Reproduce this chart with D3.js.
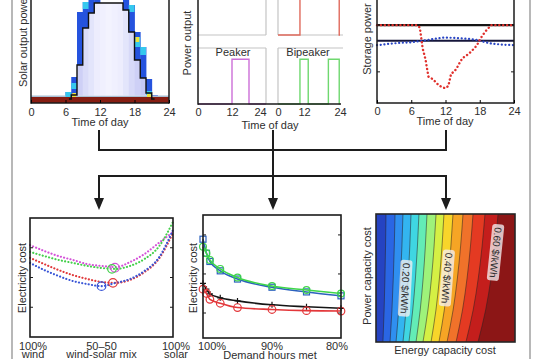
<!DOCTYPE html>
<html><head><meta charset="utf-8">
<script src="https://cdn.jsdelivr.net/npm/d3@7/dist/d3.min.js"></script>
<style>
html,body{margin:0;padding:0;background:#fff;}
svg{display:block;}
text{font-family:"Liberation Sans",Arial,Helvetica,sans-serif;fill:#2e2e2e;}
</style></head><body>
<svg id="chart" width="559" height="359"></svg>
<script>
// ================= DATA =================
// Panel A : solar output vs time of day (hourly columns)
const solarHours    = d3.range(0, 24);
const solarEnvelope = [0,0,0,0,0,0,0,0.02,0.32,0.69,0.84,0.94,0.94,0.94,0.94,0.94,0.87,0.65,0.37,0.19,0.04,0,0,0];
const solarFringe   = [0,0,0,0,0,0,0.05,0.2,0.85,0.95,1.1,1.1,0.94,0.94,0.94,0.94,1.1,0.92,0.65,0.5,0.18,0.02,0,0];
const solarShade    = [0,0,0,0,0,0,0,0.2,0.35,0.55,0.7,0.85,0.9,0.95,0.9,0.85,0.7,0.5,0.35,0.2,0.1,0,0,0];
const solarCyan     = [[6,0,0.05],[7,0.08,0.14],[9,0.88,0.95],[10,0.98,1.1],[17,0.85,0.92],[18,0.5,0.6],[19,0.42,0.5],[20,0.02,0.06]];
const solarYellow   = [[7,0,0.04],[10,1.02,1.1],[16,1.0,1.1],[18,0.55,0.6],[20,0,0.03]];
const dayTicks      = [0, 6, 12, 18, 24];

// Panel B : dispatch profiles
const halfDayTicks   = [0, 12, 24];
const intermHours    = [0, 8.5, 23.7, 24];
const intermPower    = [0, 1, 0, 0];
const peakerHours    = [0, 12, 18, 24];
const peakerPower    = [0, 1, 0, 0];
const bipeakerHours  = [0, 8.5, 11.7, 19.5, 23.7, 24];
const bipeakerPower  = [0, 1, 0, 1, 0, 0];

// Panel C : storage power
const storageRedHours = [0,1,2,3,4,5,6,7,7.5,8,8.5,9,9.5,10,10.5,11,11.5,12,12.5,13,13.5,14,14.5,15,15.5,16,16.5,17,17.5,18,18.5,19,19.5,20,21,22,23,24];
const storageRed      = [1,1,1,1,1,1,1,1,0.85,-0.5,-1.2,-2.3,-2.4,-2.55,-2.75,-2.9,-3.0,-3.05,-2.9,-2.1,-2.0,-1.75,-1.4,-1.1,-1.0,-0.85,-0.7,-0.5,-0.3,0.05,0.35,0.6,0.8,1,1,1,1,1];
const storageBlueHours = d3.range(0, 25);
const storageBlue      = [-0.28,-0.25,-0.2,-0.17,-0.14,-0.12,-0.1,-0.05,0,0.06,0.12,0.17,0.2,0.19,0.17,0.15,0.12,0.08,0,-0.1,-0.18,-0.22,-0.25,-0.27,-0.28];
const storageLevels    = [1, 0];

// Panel D : cost vs wind-solar mix
const mixShare    = [0,0.1,0.2,0.3,0.4,0.5,0.6,0.7,0.8,0.9,1.0];
const mixMagenta  = [3.09,2.89,2.72,2.59,2.45,2.39,2.35,2.52,2.79,3.16,3.53];
const mixGreen    = [2.86,2.72,2.59,2.49,2.39,2.32,2.29,2.39,2.62,3.03,3.87];
const mixRed      = [2.66,2.45,2.25,2.08,1.95,1.85,1.82,1.92,2.18,2.62,3.50];
const mixBlue     = [2.49,2.25,2.05,1.88,1.78,1.71,1.82,1.95,2.22,2.66,3.60];
const mixMinima   = [[0.594,2.33,"magenta"],[0.573,2.29,"green"],[0.58,1.82,"red"],[0.5,1.71,"blue"]];
const mixTickLabels = [["100%","wind"],["50–50","wind-solar mix"],["100%","solar"]];

// Panel E : cost vs demand hours met
const demandMet    = [100, 99.5, 99, 97.5, 95, 90, 85, 80];
const demandBlue   = [2.89,2.53,2.32,2.08,1.87,1.66,1.54,1.44];
const demandGreen  = [2.70,2.53,2.36,2.13,1.91,1.69,1.59,1.50];
const demandBlack  = [1.76,1.61,1.49,1.39,1.31,1.21,1.16,1.12];
const demandRed    = [1.61,1.50,1.35,1.25,1.14,1.09,1.06,1.05];
const demandTicks  = [100, 90, 80];

// Panel F : contour of cost over energy / power capacity cost
const contourLevels  = [0.05,0.10,0.15,0.20,0.25,0.30,0.35,0.40,0.45,0.50,0.55,0.60,0.65];
const contourTopX    = [0.072,0.137,0.194,0.252,0.309,0.367,0.432,0.489,0.554,0.626,0.698,0.784,0.878];
const contourBottomX = [0.050,0.101,0.144,0.194,0.237,0.288,0.338,0.396,0.453,0.511,0.576,0.647,0.734];
const contourBendP   = [1, 0.75, 0.5, 0.25, 0];
const contourBendS   = [0, 0.15, 0.35, 0.62, 1];
const contourColors  = ["#2543c2","#2a66e4","#2f8ff0","#33b5f0","#3fd6e2","#63ecb6","#9ef27a","#d5f044","#f8d52a","#f6a525","#f0722a","#e43a22","#c41e1c","#8c1616"];
const contourLabels  = [["0.20 $/kWh",0.21,0.42],["0.40 $/kWh",0.51,0.50],["0.60 $/kWh",0.86,0.70]];

// ================= DRAWING =================
const svg = d3.select("#chart");
const INK = "#1b1b1b";

function label(x, y, s, o = {}) {
  const t = svg.append("text")
    .attr("transform", `translate(${x},${y}) rotate(${o.rotate || 0})`)
    .attr("text-anchor", o.anchor || "middle")
    .attr("font-size", o.size || 11)
    .text(s);
  if (o.dy) t.attr("dy", o.dy);
  return t;
}
function seg(x1, y1, x2, y2, stroke, w) {
  svg.append("line").attr("x1", x1).attr("y1", y1).attr("x2", x2).attr("y2", y2)
    .attr("stroke", stroke).attr("stroke-width", w);
}
function bottomAxis(scale, y, ticks, pad) {
  const g = svg.append("g").attr("transform", `translate(0,${y})`)
    .call(d3.axisBottom(scale).tickValues(ticks).tickSizeInner(-3).tickSizeOuter(0).tickPadding(pad));
  g.select(".domain").remove();
  g.attr("font-size", 11);
  g.selectAll("text").attr("fill", "#2e2e2e");
  return g;
}

// figure borders
seg(12, 0, 12, 359, "#a0a0a0", 1.5);
seg(530, 0, 530, 359, "#a0a0a0", 1.5);

// ---------- Panel A ----------
const X1 = d3.scaleLinear().domain([0, 24]).range([31, 169]);
const Y1 = d3.scaleLinear().domain([0, 1]).range([97, -3]);
svg.append("rect").attr("x", X1(0)).attr("y", Y1(0)).attr("width", X1(24) - X1(0))
  .attr("height", Y1(-0.06) - Y1(0)).attr("fill", "#861d12");
svg.append("rect").attr("x", X1(0)).attr("y", Y1(0.015)).attr("width", X1(24) - X1(0))
  .attr("height", Y1(0) - Y1(0.015)).attr("fill", "#a9c0d4");
const shade = d3.interpolateRgb("#b8bcf1", "#f6f6ff");
solarHours.forEach(h => {
  const env = solarEnvelope[h], fr = solarFringe[h];
  const w = X1(h + 1) - X1(h) + 0.4;
  if (fr > env) {
    svg.append("rect").attr("x", X1(h)).attr("y", Y1(fr)).attr("width", w)
      .attr("height", Y1(Math.max(env, 0.015)) - Y1(fr)).attr("fill", "#2553de");
  }
  if (env > 0.015) {
    svg.append("rect").attr("x", X1(h)).attr("y", Y1(env)).attr("width", w)
      .attr("height", Y1(0.015) - Y1(env)).attr("fill", shade(solarShade[h]));
  }
});
solarCyan.forEach(([h, a, b]) => svg.append("rect").attr("x", X1(h)).attr("y", Y1(b))
  .attr("width", X1(h + 1) - X1(h)).attr("height", Y1(a) - Y1(b)).attr("fill", "#36c8ee"));
solarYellow.forEach(([h, a, b]) => svg.append("rect").attr("x", X1(h) + 1).attr("y", Y1(b))
  .attr("width", X1(h + 1) - X1(h) - 2).attr("height", Y1(a) - Y1(b)).attr("fill", "#eee23c"));
const envPts = solarHours.filter(h => h >= 6 && h <= 21).map(h => [h + (h === 6 ? 0.6 : 0), solarEnvelope[h] > 0 ? solarEnvelope[h] : -0.02]);
envPts.push([21.5, -0.02]);
svg.append("path").attr("d", d3.line().x(d => X1(d[0])).y(d => Y1(d[1])).curve(d3.curveStepAfter)(envPts))
  .attr("fill", "none").attr("stroke", "#111").attr("stroke-width", 1.4);
seg(X1(0), -5, X1(0), 103.7, INK, 1.5);
seg(X1(24), -5, X1(24), 103.7, INK, 1.5);
seg(X1(0), 103, X1(24), 103, INK, 1.5);
bottomAxis(X1, 103, dayTicks, 5);
label(23, 87, "Solar output power", { rotate: -90, anchor: "start", dy: "0.35em" });
label(100, 126, "Time of day");

// ---------- Panel B ----------
const X2a = d3.scaleLinear().domain([0, 24]).range([198, 266]);
const X2b = d3.scaleLinear().domain([0, 24]).range([278, 340]);
const Y2lo = d3.scaleLinear().domain([0, 1.25]).range([104, 48]);
const Y2hi = d3.scaleLinear().domain([0, 1.25]).range([35, -21]);
const grid = "#c4c4c4";
seg(X2a(24), -2, X2a(24), Y2hi(0), grid, 1.2);
seg(X2a(24), Y2lo(1.25), X2a(24), 104, grid, 1.2);
seg(X2b(0), -2, X2b(0), Y2hi(0), grid, 1.2);
seg(X2b(0), Y2lo(1.25), X2b(0), 104, grid, 1.2);
seg(X2a(0), Y2hi(0), X2a(24), Y2hi(0), grid, 1.2);
seg(X2b(0), Y2hi(0), X2b(24) + 3, Y2hi(0), grid, 1.2);
seg(X2a(0), Y2lo(1.25), X2a(24), Y2lo(1.25), grid, 1.2);
seg(X2b(0), Y2lo(1.25), X2b(24) + 3, Y2lo(1.25), grid, 1.2);
function stepLine(xs, ys, xsc, ysc, color) {
  svg.append("path").attr("d", d3.line().x((d, i) => xsc(xs[i])).y((d, i) => ysc(ys[i])).curve(d3.curveStepAfter)(xs))
    .attr("fill", "none").attr("stroke", color).attr("stroke-width", 1.4);
}
stepLine(intermHours, intermPower, X2b, Y2hi, "#e06a5c");
stepLine(peakerHours, peakerPower, X2a, Y2lo, "#cc6fd8");
stepLine(bipeakerHours, bipeakerPower, X2b, Y2lo, "#6fd86f");
seg(X2a(0), -2, X2a(0), 104.7, INK, 1.5);
seg(X2a(0), 104, X2b(24) + 1, 104, INK, 1.5);
const axL = bottomAxis(X2a, 104, halfDayTicks, 4);
axL.selectAll(".tick").filter(d => d === 24).select("text").attr("dx", -6);
axL.selectAll(".tick line").remove();
const axR = bottomAxis(X2b, 104, halfDayTicks, 4);
axR.selectAll(".tick").filter(d => d === 12).select("text").attr("dx", -5);
axR.selectAll(".tick line").remove();
label(233, 56, "Peaker");
label(308, 56, "Bipeaker");
label(187, 43, "Power output", { rotate: -90, dy: "0.35em" });
label(270, 129, "Time of day");

// ---------- Panel C ----------
const X3 = d3.scaleLinear().domain([0, 24]).range([377, 514]);
const Y3 = d3.scaleLinear().domain([-4, 3]).range([103, -6]);
seg(X3(0), Y3(storageLevels[0]), X3(24), Y3(storageLevels[0]), "#151515", 2.2);
seg(X3(0), Y3(storageLevels[1]), X3(24), Y3(storageLevels[1]), "#16163a", 2);
svg.append("path").attr("d", d3.line().x((d, i) => X3(storageBlueHours[i])).y(d => Y3(d)).curve(d3.curveMonotoneX)(storageBlue))
  .attr("fill", "none").attr("stroke", "#2945c4").attr("stroke-width", 2.2)
  .attr("stroke-dasharray", "0.1 3.6").attr("stroke-linecap", "round");
svg.append("path").attr("d", d3.line().x((d, i) => X3(storageRedHours[i])).y(d => Y3(d))(storageRed))
  .attr("fill", "none").attr("stroke", "#e0302c").attr("stroke-width", 2.4)
  .attr("stroke-dasharray", "0.1 3.8").attr("stroke-linecap", "round");
seg(X3(0), -5, X3(0), 103.7, INK, 1.5);
seg(X3(24), -5, X3(24), 103.7, INK, 1.5);
seg(X3(0), 103, X3(24), 103, INK, 1.5);
seg(X3(0), Y3(-2), X3(0) + 3, Y3(-2), INK, 1);
seg(X3(24) - 3, Y3(-2), X3(24), Y3(-2), INK, 1);
bottomAxis(X3, 103, dayTicks, 4);
label(367, 39, "Storage power", { rotate: -90, dy: "0.35em" });
label(445, 125, "Time of day");

// ---------- connectors ----------
const CW = 2, CC = "#1d1d1d";
seg(99, 130, 99, 151, CC, CW);
seg(446, 130, 446, 151, CC, CW);
seg(98, 150, 447, 150, CC, CW);
seg(98, 176, 447, 176, CC, CW);
seg(99, 175, 99, 200, CC, CW);
seg(446, 175, 446, 200, CC, CW);
seg(273, 130, 273, 200, CC, CW);
[99, 273, 446].forEach(x => svg.append("path")
  .attr("d", `M${x - 5},198 L${x + 5},198 L${x},210 Z`).attr("fill", CC));

// ---------- Panel D ----------
const X4 = d3.scaleLinear().domain([0, 1]).range([30, 173]);
const Y4 = d3.scaleLinear().domain([0, 4]).range([337, 218]);
const mixColors = { magenta: "#d452d8", green: "#45cf4c", red: "#e0383a", blue: "#3a56d6" };
[[mixMagenta, "magenta"], [mixGreen, "green"], [mixRed, "red"], [mixBlue, "blue"]].forEach(([vals, c]) => {
  svg.append("path").attr("d", d3.line().x((d, i) => X4(mixShare[i])).y(d => Y4(d)).curve(d3.curveMonotoneX)(vals))
    .attr("fill", "none").attr("stroke", mixColors[c]).attr("stroke-width", 2.1)
    .attr("stroke-dasharray", "0.1 3.2").attr("stroke-linecap", "round");
});
mixMinima.forEach(([x, y, c]) => svg.append("circle").attr("cx", X4(x)).attr("cy", Y4(y)).attr("r", 4.3)
  .attr("fill", "none").attr("stroke", mixColors[c]).attr("stroke-width", 1.2));
svg.append("rect").attr("x", X4(0)).attr("y", Y4(4)).attr("width", X4(1) - X4(0)).attr("height", Y4(0) - Y4(4))
  .attr("fill", "none").attr("stroke", INK).attr("stroke-width", 1.6);
[1, 2, 3].forEach(v => { seg(X4(0), Y4(v), X4(0) + 3, Y4(v), INK, 1); seg(X4(1) - 3, Y4(v), X4(1), Y4(v), INK, 1); });
[0, 0.5, 1].forEach((v, i) => {
  label(X4(v) + (i === 0 ? 3 : i === 2 ? 3 : 0), 349.5, mixTickLabels[i][0]);
  label(X4(v) + (i === 0 ? 3 : i === 2 ? 3 : 0), 358, mixTickLabels[i][1]);
});
label(22, 278, "Electricity cost", { rotate: -90, dy: "0.35em" });

// ---------- Panel E ----------
const X5 = d3.scaleLinear().domain([100, 80]).range([203, 341]);
const Y5 = d3.scaleLinear().domain([0.36, 3.51]).range([338, 215]);
const demColors = { blue: "#2c62be", green: "#3fd64a", black: "#151515", red: "#e3373a" };
const demSeries = [[demandBlue, "blue"], [demandGreen, "green"], [demandBlack, "black"], [demandRed, "red"]];
demSeries.forEach(([vals, c]) => {
  svg.append("path").attr("d", d3.line().x((d, i) => X5(demandMet[i])).y(d => Y5(d)).curve(d3.curveMonotoneX)(vals))
    .attr("fill", "none").attr("stroke", demColors[c]).attr("stroke-width", 1.6);
  vals.forEach((v, i) => {
    const x = X5(demandMet[i]), y = Y5(v);
    if (c === "blue") svg.append("rect").attr("x", x - 3).attr("y", y - 3).attr("width", 6).attr("height", 6)
      .attr("fill", "none").attr("stroke", demColors[c]).attr("stroke-width", 1.2);
    else if (c === "black") svg.append("path").attr("d", `M${x - 3},${y}H${x + 3}M${x},${y - 3}V${y + 3}`)
      .attr("stroke", demColors[c]).attr("stroke-width", 1.2);
    else svg.append("circle").attr("cx", x).attr("cy", y).attr("r", c === "red" ? 3.8 : 3.4)
      .attr("fill", "none").attr("stroke", demColors[c]).attr("stroke-width", 1.2);
  });
});
svg.append("rect").attr("x", X5(100)).attr("y", 215).attr("width", X5(80) - X5(100)).attr("height", 123)
  .attr("fill", "none").attr("stroke", INK).attr("stroke-width", 1.6);
[1, 2, 3].forEach(v => { seg(X5(100), Y5(v), X5(100) + 3, Y5(v), INK, 1); seg(X5(80) - 3, Y5(v), X5(80), Y5(v), INK, 1); });
demandTicks.forEach(v => label(X5(v) + (v === 100 ? 9 : v === 80 ? -4 : 0), 350, v + "%"));
label(270, 359, "Demand hours met");
label(193, 278, "Electricity cost", { rotate: -90, dy: "0.35em" });

// ---------- Panel F ----------
const X6 = d3.scaleLinear().domain([0, 1]).range([376, 515]);
const Y6 = d3.scaleLinear().domain([0, 1]).range([342, 214]);
svg.append("clipPath").attr("id", "cf").append("rect")
  .attr("x", X6(0)).attr("y", Y6(1)).attr("width", X6(1) - X6(0)).attr("height", Y6(0) - Y6(1));
const gF = svg.append("g").attr("clip-path", "url(#cf)");
const bPts = i => contourBendP.map((p, k) => ({ p, x: contourTopX[i] + (contourBottomX[i] - contourTopX[i]) * contourBendS[k] }));
gF.append("rect").attr("x", X6(0)).attr("y", Y6(1)).attr("width", X6(1) - X6(0)).attr("height", Y6(0) - Y6(1))
  .attr("fill", contourColors[0]);
const area = d3.area().y(d => Y6(d.p)).x0(d => X6(d.x)).x1(X6(1.05)).curve(d3.curveMonotoneY);
const cline = d3.line().y(d => Y6(d.p)).x(d => X6(d.x)).curve(d3.curveMonotoneY);
contourLevels.forEach((lv, i) => gF.append("path").attr("d", area(bPts(i))).attr("fill", contourColors[i + 1]));
contourLevels.forEach((lv, i) => gF.append("path").attr("d", cline(bPts(i))).attr("fill", "none")
  .attr("stroke", "#2a2020").attr("stroke-width", 0.7).attr("stroke-opacity", 0.75));
contourLabels.forEach(([s, x, p], i) => {
  const g = svg.append("g").attr("transform", `translate(${X6(x)},${Y6(p)}) rotate(${93 + i * 1.5})`);
  const t = g.append("text").attr("text-anchor", "middle").attr("dy", "0.35em").attr("font-size", 10).attr("fill", "#333").text(s);
  const w = t.node().getComputedTextLength();
  g.insert("rect", "text").attr("x", -w / 2 - 3).attr("y", -6).attr("width", w + 6).attr("height", 12).attr("rx", 3)
    .attr("fill", "#f4eef0").attr("fill-opacity", 0.78);
});
svg.append("rect").attr("x", X6(0)).attr("y", Y6(1)).attr("width", X6(1) - X6(0)).attr("height", Y6(0) - Y6(1))
  .attr("fill", "none").attr("stroke", "#262626").attr("stroke-width", 1.6);
label(445, 353.5, "Energy capacity cost");
label(367, 276, "Power capacity cost", { rotate: -90, dy: "0.35em" });
</script>
</body></html>
